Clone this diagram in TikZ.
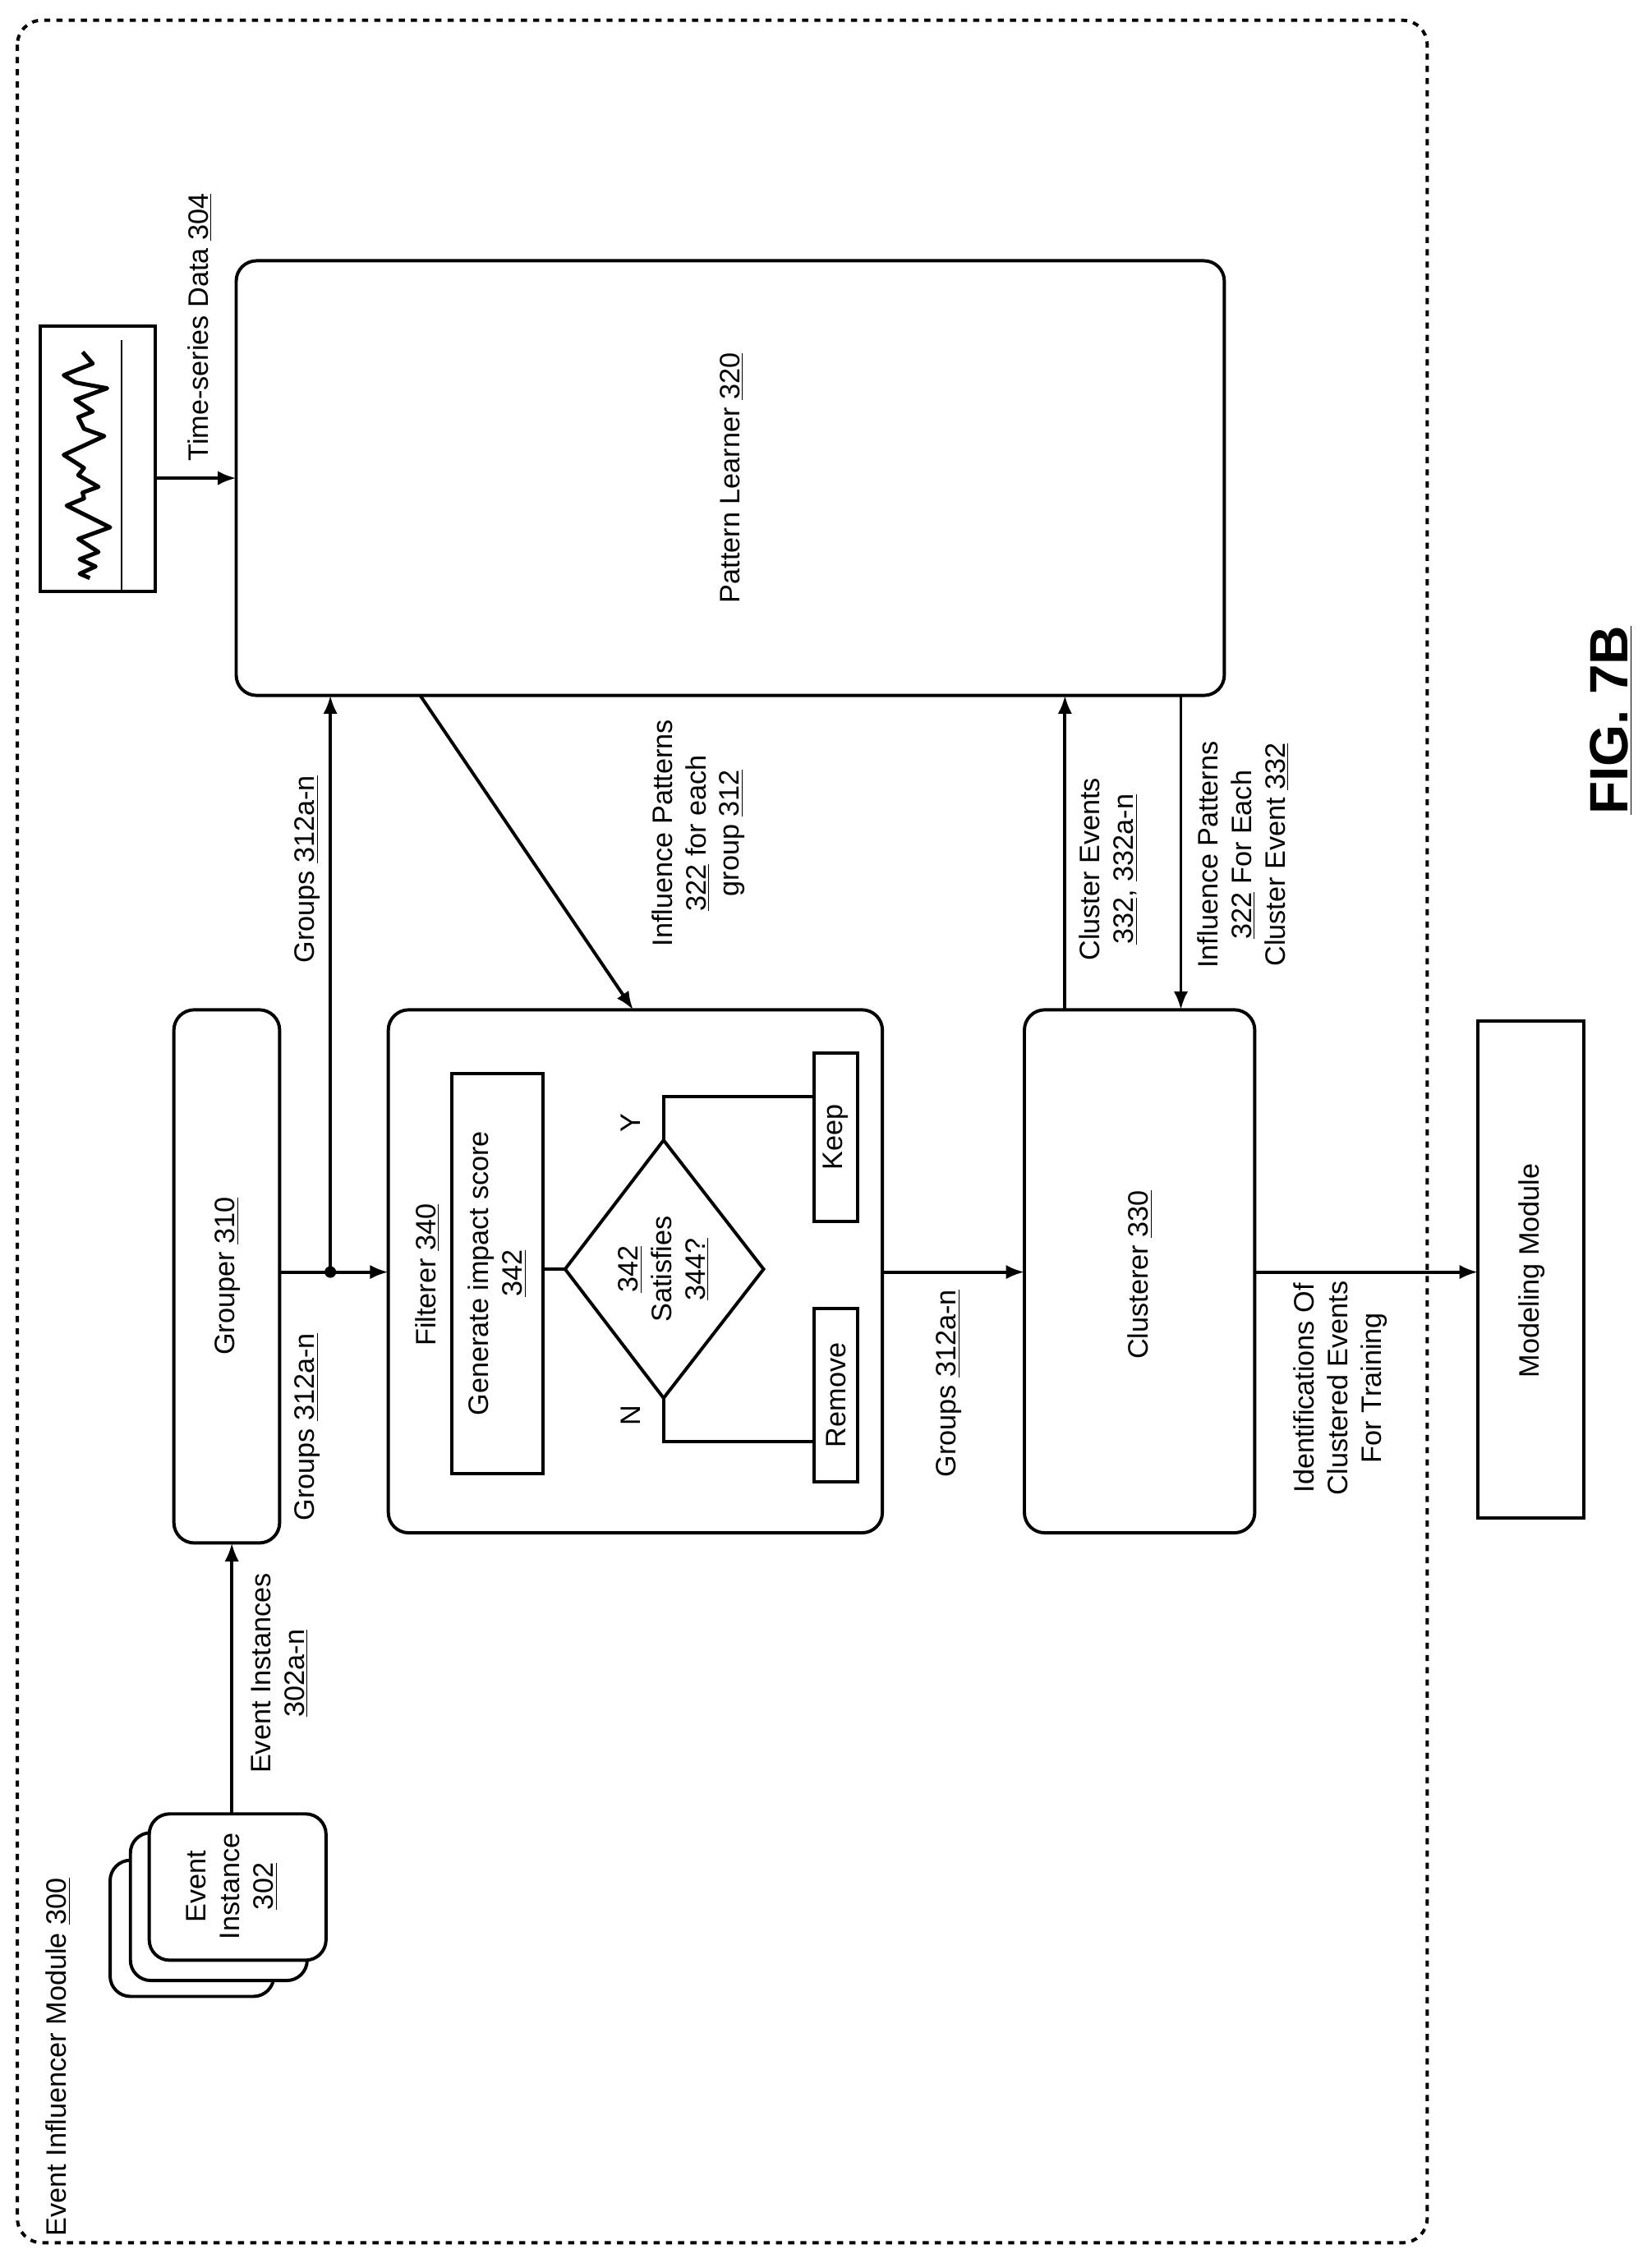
\documentclass[tikz,border=0pt]{standalone}
\usepackage{fontspec}
\setmainfont{Liberation Sans}
\usetikzlibrary{arrows.meta}
\newcommand{\un}[1]{\underline{#1}}
\begin{document}
\begin{tikzpicture}[x=0.025cm,y=-0.025cm,
  lw/.style={line width=1.6pt},
  box/.style={draw,lw,rounded corners=10pt},
  txt/.style={rotate=90,align=center,font=\fontsize{13.8}{16.5}\selectfont,inner sep=1pt},
  arr/.style={lw,-{Latex[length=9pt,width=7pt]}}]
\useasboundingbox (0,0) rectangle (1140,1562);
\draw[lw,dashed,rounded corners=12pt] (12,14) rectangle (985,1548);
\node[txt,anchor=west] (title) at (40,1545) {Event Influencer Module \un{300}};
% event instances
\draw[box,fill=white] (76,1284) rectangle (189,1378);
\draw[box,fill=white] (90,1265) rectangle (212,1367);
\draw[box,fill=white] (103,1252) rectangle (225,1353);
\node[txt] (ev) at (160,1302) {Event\\Instance\\\un{302}};
\coordinate (evtop) at (160,1252);
% grouper
\draw[box] (120,697) rectangle (193,1065);
\node[txt] (grouper) at (157,881) {Grouper \un{310}};
\coordinate (gbot) at (160,1065);
\draw[arr] (evtop) -- (gbot);
\node[txt] (l1) at (193,1155) {Event Instances\\\un{302a-n}};
% pattern learner
\draw[box] (163,180) rectangle (845,480);
\node[txt] (pl) at (505,330) {Pattern Learner \un{320}};
% chart
\draw[lw] (28,225) rectangle (107,408);
\draw[line width=1pt] (84,235) -- (84,408);
\draw[line width=2pt,line join=round] (57,243) -- (64,251) -- (44,259) -- (52,264) -- (74,268) -- (52,276) -- (64,284) -- (54,288) -- (58,296) -- (72,301) -- (44,314) -- (58,323) -- (54,328) -- (68,336) -- (57,340) -- (58,344) -- (46,349) -- (76,364) -- (54,372) -- (68,381) -- (55,386) -- (66,391) -- (55,396) -- (62,399);
\coordinate (chr) at (107,330);
\coordinate (pll) at (163,330);
\draw[arr] (chr) -- (pll);
\node[txt,anchor=west] (l2) at (138,320) {Time-series Data \un{304}};
% filterer
\draw[box] (268,697) rectangle (609,1058);
\node[txt] (filt) at (295,880) {Filterer \un{340}};
\draw[lw] (312,741) rectangle (375,1017);
\node[txt] (gen) at (343,879) {Generate impact score\\\un{342}};
\draw[lw] (390,876) -- (458,787) -- (527,876) -- (458,965) -- cycle;
\node[txt] (sat) at (458,876) {\un{342}\\Satisfies\\\un{344?}};
\draw[lw] (375,876) -- (390,876);
\draw[lw] (562,727) rectangle (592,843);
\node[txt] (keep) at (577,785) {Keep};
\draw[lw] (562,903) rectangle (592,1023);
\node[txt] (rem) at (577,963) {Remove};
\draw[lw] (458,787) -- (458,757) -- (562,757);
\draw[lw] (458,965) -- (458,995) -- (562,995);
\node[txt] (Y) at (435,775) {Y};
\node[txt] (N) at (435,977) {N};
% grouper -> filterer
\coordinate (dot) at (228,878);
\draw[lw] (193,878) -- (dot);
\fill (dot) circle (4);
\draw[arr] (dot) -- (268,878);
\draw[arr] (dot) -- (228,480);
\node[txt] (l3) at (212,985) {Groups \un{312a-n}};
\node[txt] (l4) at (212,600) {Groups \un{312a-n}};
% pl -> filterer
\draw[arr] (290,480) -- (437,697);
\node[txt] (l5) at (482,575) {Influence Patterns\\\un{322} for each\\group \un{312}};
% clusterer
\draw[box] (707,697) rectangle (866,1058);
\node[txt] (clu) at (787,880) {Clusterer \un{330}};
\draw[arr] (609,878) -- (707,878);
\node[txt] (l6) at (655,955) {Groups \un{312a-n}};
\draw[arr] (735,697) -- (735,480);
\draw[arr] (815,480) -- (815,697);
\node[txt] (l7) at (765,600) {Cluster Events\\\un{332}, \un{332a-n}};
\node[txt] (l8) at (858,590) {Influence Patterns\\\un{322} For Each\\Cluster Event \un{332}};
% modeling
\draw[lw] (1020,705) rectangle (1093,1048);
\node[txt] (mod) at (1057,877) {Modeling Module};
\draw[arr] (866,878) -- (1020,878);
\node[txt] (l9) at (925,958) {Identifications Of\\Clustered Events\\For Training};
\node[rotate=90,font=\fontsize{26.5}{31}\selectfont\bfseries] (fig) at (1112,497) {\un{FIG. 7B}};
\end{tikzpicture}
\end{document}
